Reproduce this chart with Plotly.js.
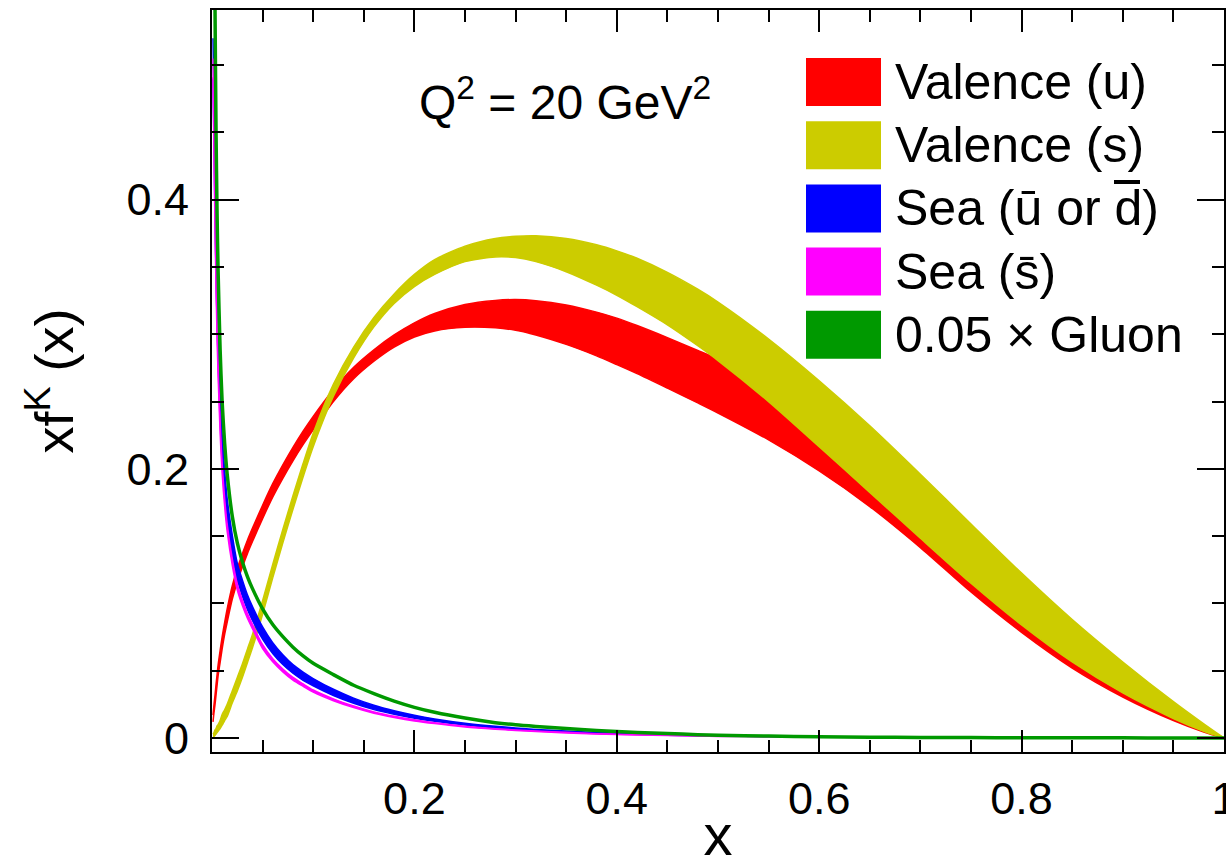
<!DOCTYPE html>
<html>
<head>
<meta charset="utf-8">
<script src="https://cdn.plot.ly/plotly-3.0.1.min.js"></script>
<style>html,body{margin:0;padding:0;background:#fff;}#chart{width:1226px;height:867px;}</style>
</head>
<body>
<div id="chart"></div>
<script>
// ---- data ----
const xs = [0.001,0.002,0.003,0.004,0.005,0.006,0.008,0.01,0.0125,0.015,0.02,0.025,0.03,0.035,0.04,0.05,0.06,0.07,0.08,0.09,0.1,0.12,0.14,0.16,0.18,0.2,0.22,0.25,0.28,0.3,0.32,0.35,0.38,0.4,0.42,0.45,0.48,0.5,0.55,0.6,0.65,0.7,0.75,0.8,0.85,0.9,0.95,0.98,1.0];

const valenceU_lo = [0.012,0.019,0.025,0.032,0.039,0.046,0.056,0.066,0.077,0.086,0.103,0.116,0.127,0.137,0.146,0.163,0.179,0.193,0.206,0.218,0.229,0.250,0.267,0.280,0.2905,0.298,0.3025,0.3052,0.3048,0.3030,0.2995,0.2925,0.2840,0.2775,0.2708,0.2600,0.2490,0.2415,0.2215,0.1985,0.1720,0.1415,0.1085,0.0785,0.0520,0.0305,0.0130,0.0045,0];
const valenceU_hi = [0.017,0.025,0.032,0.040,0.047,0.054,0.065,0.075,0.086,0.096,0.113,0.126,0.137,0.147,0.156,0.173,0.189,0.203,0.216,0.228,0.239,0.259,0.2755,0.2885,0.2995,0.3085,0.3155,0.3222,0.3252,0.3258,0.3250,0.3218,0.3165,0.3120,0.3065,0.2975,0.2880,0.2815,0.2620,0.2380,0.2080,0.1750,0.1380,0.1030,0.0720,0.0450,0.0210,0.0080,0];

const valenceS_lo = [0.000,0.001,0.002,0.003,0.004,0.005,0.007,0.0095,0.013,0.016,0.026,0.035,0.045,0.056,0.067,0.092,0.119,0.145,0.170,0.194,0.2165,0.254,0.2825,0.3055,0.3230,0.3355,0.3445,0.3540,0.3575,0.3570,0.3540,0.3465,0.3365,0.3290,0.3205,0.3070,0.2915,0.2805,0.2500,0.2165,0.1825,0.1485,0.1150,0.0840,0.0565,0.0335,0.0145,0.0050,0];
const valenceS_hi = [0.003,0.004,0.006,0.007,0.009,0.010,0.013,0.0175,0.021,0.025,0.035,0.045,0.055,0.066,0.077,0.102,0.129,0.155,0.180,0.204,0.2265,0.263,0.2905,0.3125,0.3300,0.3445,0.3555,0.3655,0.3712,0.3728,0.3732,0.3712,0.3665,0.3620,0.3565,0.3460,0.3335,0.3240,0.2965,0.2655,0.2320,0.1960,0.1590,0.1225,0.0880,0.0565,0.0270,0.0105,0];

const seaU_lo = [0.490,0.441,0.387,0.344,0.310,0.282,0.240,0.210,0.183,0.164,0.137,0.118,0.1055,0.0955,0.0873,0.0735,0.0628,0.0546,0.0481,0.0429,0.0388,0.0316,0.0258,0.0211,0.0176,0.0147,0.0124,0.0096,0.0075,0.0065,0.0056,0.0044,0.0035,0.0030,0.0027,0.0021,0.0017,0.0015,0.0011,0.0008,0.0005,0.0004,0.0002,0.0001,0.0001,0,0,0,0];
const seaU_hi = [0.520,0.469,0.413,0.368,0.332,0.302,0.258,0.226,0.199,0.178,0.151,0.130,0.1175,0.1065,0.0977,0.0825,0.0708,0.0618,0.0545,0.0489,0.0442,0.0362,0.0296,0.0243,0.0202,0.0169,0.0142,0.0110,0.0087,0.0075,0.0064,0.0052,0.0041,0.0036,0.0031,0.0025,0.0019,0.0017,0.0013,0.0010,0.0007,0.0004,0.0003,0.0002,0.0001,0.0001,0,0,0];

const seaS_lo = [0.491,0.433,0.378,0.334,0.298,0.270,0.227,0.197,0.172,0.1535,0.1285,0.110,0.0985,0.089,0.0812,0.0665,0.0566,0.0491,0.0430,0.0384,0.0341,0.0277,0.0226,0.0184,0.0153,0.0127,0.0107,0.0082,0.0065,0.0056,0.0048,0.0038,0.0030,0.0026,0.0023,0.0018,0.0014,0.0012,0.0009,0.0006,0.0004,0.0003,0.0002,0.0001,0.0001,0,0,0,0];
const seaS_hi = [0.505,0.447,0.390,0.344,0.308,0.278,0.235,0.204,0.178,0.159,0.1335,0.1145,0.1025,0.0925,0.0844,0.0693,0.0590,0.0513,0.0450,0.0402,0.0357,0.0291,0.0238,0.0194,0.0161,0.0135,0.0113,0.0088,0.0069,0.0060,0.0052,0.0042,0.0032,0.0028,0.0025,0.0020,0.0016,0.0014,0.0011,0.0008,0.0006,0.0003,0.0002,0.0001,0.0001,0,0,0,0];

const gluon005 = [1.000,0.700,0.540,0.450,0.390,0.348,0.289,0.250,0.219,0.196,0.165,0.145,0.131,0.120,0.111,0.096,0.0843,0.0753,0.0675,0.0610,0.0555,0.0471,0.0392,0.0330,0.0274,0.0228,0.0191,0.0148,0.0114,0.0098,0.0086,0.0070,0.0056,0.0048,0.0041,0.0033,0.0025,0.0021,0.0014,0.0010,0.0006,0.0004,0.0003,0.0002,0.0001,0.0001,0,0,0];

const legendLabels = ["Valence (u)", "Valence (s)", "Sea (ū or d)", "Sea (s̄)", "0.05 × Gluon"];
const legendColors = ["#ff0000", "#cccc00", "#0000ff", "#ff00ff", "#009900"];
const xTickVals = [0.2, 0.4, 0.6, 0.8, 1];
const xTickText = ["0.2", "0.4", "0.6", "0.8", "1"];
const yTickVals = [0, 0.2, 0.4];
const yTickText = ["0", "0.2", "0.4"];
const annotationText = "Q<sup>2</sup> = 20 GeV<sup>2</sup>";

// ---- traces ----
function band(lo, hi, color) {
  return [
    {x: xs, y: lo, type: 'scatter', mode: 'lines', line: {color: color, width: 1.5, shape: 'spline', smoothing: 0.7}, showlegend: false, hoverinfo: 'skip'},
    {x: xs, y: hi, type: 'scatter', mode: 'lines', fill: 'tonexty', fillcolor: color, line: {color: color, width: 1.5, shape: 'spline', smoothing: 0.7}, showlegend: false, hoverinfo: 'skip'}
  ];
}
const traces = [].concat(
  band(valenceU_lo, valenceU_hi, legendColors[0]),
  band(valenceS_lo, valenceS_hi, legendColors[1]),
  band(seaU_lo, seaU_hi, legendColors[2]),
  band(seaS_lo, seaS_hi, legendColors[3]),
  [{x: xs, y: gluon005, type: 'scatter', mode: 'lines', line: {color: legendColors[4], width: 3.5, shape: 'spline', smoothing: 0.7}, showlegend: false, hoverinfo: 'skip'}]
);

// ---- layout helpers (pixel -> paper) ----
const W = 1226, H = 867;
const M = {l: 212, r: 2, t: 10, b: 115};
const pw = W - M.l - M.r, ph = H - M.t - M.b;
const px2x = p => (p - M.l) / pw;
const py2y = p => (H - M.b - p) / ph;

const shapes = [], annotations = [];
const rowTop = 58, rowPitch = 63.2, boxH = 48;
legendLabels.forEach((lab, i) => {
  const top = rowTop + i * rowPitch;
  shapes.push({type: 'rect', xref: 'paper', yref: 'paper', x0: px2x(806), x1: px2x(881), y0: py2y(top + boxH), y1: py2y(top), fillcolor: legendColors[i], line: {width: 0}, layer: 'above'});
  annotations.push({xref: 'paper', yref: 'paper', x: px2x(893), y: py2y(top + boxH / 2), xanchor: 'left', yanchor: 'middle', text: lab, showarrow: false, font: {size: 50, color: '#000'}});
});
// overline (bar) above the "d" of the anti-quark label
shapes.push({type: 'line', xref: 'paper', yref: 'paper', x0: px2x(1114), x1: px2x(1140), y0: py2y(182), y1: py2y(182), line: {color: '#000', width: 4}, layer: 'above'});
annotations.push({xref: 'paper', yref: 'paper', x: px2x(565), y: py2y(99), xanchor: 'center', yanchor: 'middle', text: annotationText, showarrow: false, font: {size: 48, color: '#000'}});

const axisCommon = {
  showgrid: false, zeroline: false, showline: true, linecolor: '#000', linewidth: 2,
  mirror: 'ticks', ticks: 'inside', tickcolor: '#000', tickwidth: 2,
  tickfont: {size: 45, color: '#000'}, fixedrange: true
};

const layout = {
  width: W, height: H,
  margin: M,
  paper_bgcolor: '#fff', plot_bgcolor: '#fff',
  font: {family: 'Liberation Sans, Arial, Helvetica, sans-serif', color: '#000'},
  showlegend: false,
  xaxis: Object.assign({}, axisCommon, {
    range: [0, 1], tickmode: 'array', tickvals: xTickVals, ticktext: xTickText, ticklen: 22,
    ticklabelstandoff: 6, ticklabeloverflow: 'allow',
    minor: {ticks: 'inside', ticklen: 12, tickwidth: 2, tickcolor: '#000', tickmode: 'linear', tick0: 0, dtick: 0.05},
    title: {text: 'x', font: {size: 58}, standoff: 12}
  }),
  yaxis: Object.assign({}, axisCommon, {
    range: [-0.0104, 0.541], tickmode: 'array', tickvals: yTickVals, ticktext: yTickText, ticklen: 27,
    ticklabelstandoff: 12,
    minor: {ticks: 'inside', ticklen: 12, tickwidth: 2, tickcolor: '#000', tickmode: 'linear', tick0: 0, dtick: 0.05},
    title: {text: 'xf<sup>K</sup> (x)', font: {size: 54}, standoff: 36}
  }),
  shapes: shapes,
  annotations: annotations
};

Plotly.newPlot('chart', traces, layout, {displayModeBar: false, staticPlot: true});
</script>
</body>
</html>
